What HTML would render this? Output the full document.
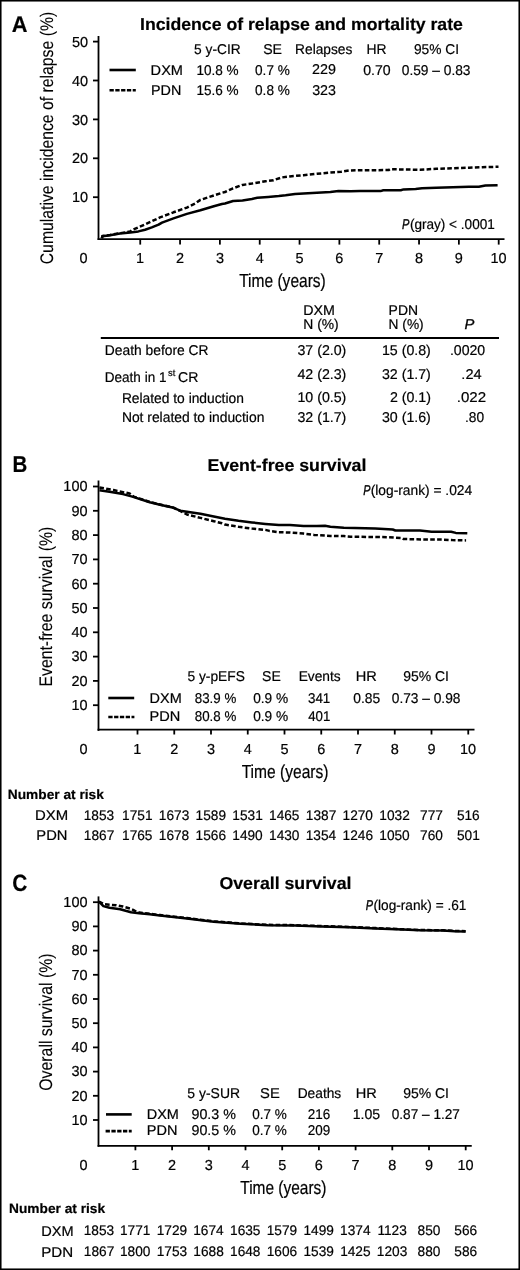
<!DOCTYPE html>
<html><head><meta charset="utf-8"><style>
html,body{margin:0;padding:0;background:#fff;}
body{width:520px;height:1270px;overflow:hidden;}
svg{display:block;will-change:transform;}
text{font-family:"Liberation Sans",sans-serif;fill:#000;stroke:#000;stroke-width:0.2px;text-rendering:geometricPrecision;}
</style></head><body>
<svg width="520" height="1270" viewBox="0 0 520 1270">
<rect x="0" y="0" width="520" height="1270" fill="#fff"/>
<rect x="0.75" y="0.75" width="518.5" height="1268.5" fill="none" stroke="#000" stroke-width="1.6"/>
<text x="11.76" y="31.60" font-size="22.6" font-weight="bold" font-style="normal" textLength="15.74" lengthAdjust="spacingAndGlyphs">A</text>
<text x="140.05" y="29.60" font-size="17.2" font-weight="bold" font-style="normal" textLength="322.85" lengthAdjust="spacingAndGlyphs">Incidence of relapse and mortality rate</text>
<text transform="translate(52.80,263.50) rotate(-90)" x="-0.79" y="0" font-size="18.2" textLength="252.48" lengthAdjust="spacingAndGlyphs" style="stroke-width:0.1px">Cumulative incidence of relapse (%)</text>
<line x1="98.50" y1="36.00" x2="98.50" y2="240.00" stroke="#000" stroke-width="1.8"/>
<line x1="97.60" y1="239.10" x2="504.50" y2="239.10" stroke="#000" stroke-width="1.8"/>
<line x1="93.00" y1="197.20" x2="98.50" y2="197.20" stroke="#000" stroke-width="1.8"/>
<text x="71.98" y="202.30" font-size="14.5" font-weight="normal" font-style="normal" textLength="16.13" lengthAdjust="spacingAndGlyphs">10</text>
<line x1="93.00" y1="158.30" x2="98.50" y2="158.30" stroke="#000" stroke-width="1.8"/>
<text x="71.98" y="163.40" font-size="14.5" font-weight="normal" font-style="normal" textLength="16.13" lengthAdjust="spacingAndGlyphs">20</text>
<line x1="93.00" y1="119.40" x2="98.50" y2="119.40" stroke="#000" stroke-width="1.8"/>
<text x="71.98" y="124.50" font-size="14.5" font-weight="normal" font-style="normal" textLength="16.13" lengthAdjust="spacingAndGlyphs">30</text>
<line x1="93.00" y1="80.50" x2="98.50" y2="80.50" stroke="#000" stroke-width="1.8"/>
<text x="71.98" y="85.60" font-size="14.5" font-weight="normal" font-style="normal" textLength="16.13" lengthAdjust="spacingAndGlyphs">40</text>
<line x1="93.00" y1="41.60" x2="98.50" y2="41.60" stroke="#000" stroke-width="1.8"/>
<text x="71.98" y="46.70" font-size="14.5" font-weight="normal" font-style="normal" textLength="16.13" lengthAdjust="spacingAndGlyphs">50</text>
<text x="79.53" y="262.80" font-size="14.5" font-weight="normal" font-style="normal" textLength="8.06" lengthAdjust="spacingAndGlyphs">0</text>
<line x1="140.23" y1="239.10" x2="140.23" y2="244.60" stroke="#000" stroke-width="1.8"/>
<text x="136.03" y="263.00" font-size="14.5" font-weight="normal" font-style="normal" textLength="8.06" lengthAdjust="spacingAndGlyphs">1</text>
<line x1="180.06" y1="239.10" x2="180.06" y2="244.60" stroke="#000" stroke-width="1.8"/>
<text x="176.04" y="263.00" font-size="14.5" font-weight="normal" font-style="normal" textLength="8.06" lengthAdjust="spacingAndGlyphs">2</text>
<line x1="219.89" y1="239.10" x2="219.89" y2="244.60" stroke="#000" stroke-width="1.8"/>
<text x="215.90" y="263.00" font-size="14.5" font-weight="normal" font-style="normal" textLength="8.06" lengthAdjust="spacingAndGlyphs">3</text>
<line x1="259.72" y1="239.10" x2="259.72" y2="244.60" stroke="#000" stroke-width="1.8"/>
<text x="255.73" y="263.00" font-size="14.5" font-weight="normal" font-style="normal" textLength="8.06" lengthAdjust="spacingAndGlyphs">4</text>
<line x1="299.55" y1="239.10" x2="299.55" y2="244.60" stroke="#000" stroke-width="1.8"/>
<text x="295.53" y="263.00" font-size="14.5" font-weight="normal" font-style="normal" textLength="8.06" lengthAdjust="spacingAndGlyphs">5</text>
<line x1="339.38" y1="239.10" x2="339.38" y2="244.60" stroke="#000" stroke-width="1.8"/>
<text x="335.32" y="263.00" font-size="14.5" font-weight="normal" font-style="normal" textLength="8.06" lengthAdjust="spacingAndGlyphs">6</text>
<line x1="379.21" y1="239.10" x2="379.21" y2="244.60" stroke="#000" stroke-width="1.8"/>
<text x="375.19" y="263.00" font-size="14.5" font-weight="normal" font-style="normal" textLength="8.06" lengthAdjust="spacingAndGlyphs">7</text>
<line x1="419.04" y1="239.10" x2="419.04" y2="244.60" stroke="#000" stroke-width="1.8"/>
<text x="414.98" y="263.00" font-size="14.5" font-weight="normal" font-style="normal" textLength="8.06" lengthAdjust="spacingAndGlyphs">8</text>
<line x1="458.87" y1="239.10" x2="458.87" y2="244.60" stroke="#000" stroke-width="1.8"/>
<text x="454.85" y="263.00" font-size="14.5" font-weight="normal" font-style="normal" textLength="8.06" lengthAdjust="spacingAndGlyphs">9</text>
<line x1="498.70" y1="239.10" x2="498.70" y2="244.60" stroke="#000" stroke-width="1.8"/>
<text x="490.40" y="263.00" font-size="14.5" font-weight="normal" font-style="normal" textLength="16.13" lengthAdjust="spacingAndGlyphs">10</text>
<text x="239.19" y="286.60" font-size="18.8" font-weight="normal" font-style="normal" textLength="86.61" lengthAdjust="spacingAndGlyphs">Time (years)</text>
<line x1="109.50" y1="70.00" x2="135.80" y2="70.00" stroke="#000" stroke-width="2.6"/>
<line x1="109.50" y1="90.20" x2="135.80" y2="90.20" stroke="#000" stroke-width="2.6" stroke-dasharray="4.3 1.5"/>
<text x="194.05" y="53.80" font-size="14.2" font-weight="normal" font-style="normal" textLength="46.63" lengthAdjust="spacingAndGlyphs">5 y-CIR</text>
<text x="263.16" y="53.80" font-size="14.2" font-weight="normal" font-style="normal" textLength="18.86" lengthAdjust="spacingAndGlyphs">SE</text>
<text x="295.10" y="53.80" font-size="14.2" font-weight="normal" font-style="normal" textLength="57.27" lengthAdjust="spacingAndGlyphs">Relapses</text>
<text x="366.59" y="53.80" font-size="14.2" font-weight="normal" font-style="normal" textLength="20.10" lengthAdjust="spacingAndGlyphs">HR</text>
<text x="413.88" y="53.80" font-size="14.2" font-weight="normal" font-style="normal" textLength="45.12" lengthAdjust="spacingAndGlyphs">95% CI</text>
<text x="150.63" y="74.80" font-size="14.2" font-weight="normal" font-style="normal" textLength="32.36" lengthAdjust="spacingAndGlyphs">DXM</text>
<text x="196.48" y="74.60" font-size="14.2" font-weight="normal" font-style="normal" textLength="42.17" lengthAdjust="spacingAndGlyphs">10.8 %</text>
<text x="255.06" y="74.60" font-size="14.2" font-weight="normal" font-style="normal" textLength="34.78" lengthAdjust="spacingAndGlyphs">0.7 %</text>
<text x="311.98" y="74.40" font-size="14.2" font-weight="normal" font-style="normal" textLength="23.91" lengthAdjust="spacingAndGlyphs">229</text>
<text x="363.24" y="74.60" font-size="14.2" font-weight="normal" font-style="normal" textLength="27.45" lengthAdjust="spacingAndGlyphs">0.70</text>
<text x="401.75" y="74.60" font-size="14.2" font-weight="normal" font-style="normal" textLength="68.76" lengthAdjust="spacingAndGlyphs">0.59 – 0.83</text>
<text x="151.05" y="95.00" font-size="14.2" font-weight="normal" font-style="normal" textLength="30.32" lengthAdjust="spacingAndGlyphs">PDN</text>
<text x="196.48" y="95.00" font-size="14.2" font-weight="normal" font-style="normal" textLength="42.17" lengthAdjust="spacingAndGlyphs">15.6 %</text>
<text x="255.06" y="95.00" font-size="14.2" font-weight="normal" font-style="normal" textLength="34.78" lengthAdjust="spacingAndGlyphs">0.8 %</text>
<text x="312.13" y="95.00" font-size="14.2" font-weight="normal" font-style="normal" textLength="23.76" lengthAdjust="spacingAndGlyphs">323</text>
<text x="409.89" y="228.70" font-size="14.2" font-weight="normal" font-style="normal" textLength="84.94" lengthAdjust="spacingAndGlyphs">(gray) &lt; .0001</text>
<text x="402.07" y="228.70" font-size="14.2" font-weight="normal" font-style="italic" textLength="7.41" lengthAdjust="spacingAndGlyphs" style="stroke-width:0.35px">P</text>
<polyline points="101.9,238.3 102.4,236.0 110.0,235.0 120.0,233.2 130.3,231.5 131.6,230.3 145.0,224.5 160.0,217.4 173.5,212.3 186.9,207.6 195.0,203.6 200.4,199.9 213.8,195.5 221.9,192.8 225.0,192.0 233.1,188.3 242.5,184.9 251.9,183.6 265.4,181.3 273.5,180.2 281.5,177.5 289.6,176.4 303.5,175.2 316.9,173.8 330.4,172.5 341.1,171.8 349.2,170.5 360.0,170.2 388.6,170.1 390.0,169.2 420.0,169.8 436.3,168.8 452.7,168.2 469.0,167.7 482.1,167.2 498.5,166.8" fill="none" stroke="#000" stroke-width="2.5" stroke-linejoin="round" stroke-dasharray="4.6 2.3"/>
<polyline points="101.9,238.3 102.4,236.2 110.0,235.2 120.0,233.6 130.3,232.4 138.4,231.4 145.1,229.7 151.8,227.4 158.6,224.6 162.0,222.6 173.5,218.4 186.9,213.9 200.4,210.3 213.8,206.2 221.9,204.0 225.0,203.5 233.1,201.0 242.5,200.4 251.9,199.0 257.3,197.7 268.1,197.0 278.8,196.1 285.6,195.3 295.0,193.9 303.5,193.4 316.9,192.7 330.4,192.0 338.5,191.1 350.6,191.3 360.0,190.9 380.6,191.1 383.3,190.3 400.8,190.2 403.5,189.4 415.6,188.9 422.0,188.3 436.3,187.8 452.7,187.3 469.0,186.8 478.8,186.8 485.4,185.6 497.6,185.3" fill="none" stroke="#000" stroke-width="2.5" stroke-linejoin="round"/>
<text x="303.26" y="315.00" font-size="14.2" font-weight="normal" font-style="normal" textLength="31.72" lengthAdjust="spacingAndGlyphs">DXM</text>
<text x="303.29" y="328.90" font-size="14.2" font-weight="normal" font-style="normal" textLength="35.41" lengthAdjust="spacingAndGlyphs">N (%)</text>
<text x="388.58" y="315.00" font-size="14.2" font-weight="normal" font-style="normal" textLength="29.45" lengthAdjust="spacingAndGlyphs">PDN</text>
<text x="388.60" y="328.90" font-size="14.2" font-weight="normal" font-style="normal" textLength="35.09" lengthAdjust="spacingAndGlyphs">N (%)</text>
<text x="464.46" y="328.70" font-size="14.2" font-weight="normal" font-style="italic" textLength="9.85" lengthAdjust="spacingAndGlyphs" style="stroke-width:0.3px">P</text>
<line x1="100.80" y1="338.00" x2="499.00" y2="338.00" stroke="#000" stroke-width="2.2"/>
<text x="104.79" y="355.20" font-size="14.2" font-weight="normal" font-style="normal" textLength="103.78" lengthAdjust="spacingAndGlyphs">Death before CR</text>
<text x="297.43" y="355.20" font-size="14.2" font-weight="normal" font-style="normal" textLength="48.94" lengthAdjust="spacingAndGlyphs">37 (2.0)</text>
<text x="381.93" y="355.20" font-size="14.2" font-weight="normal" font-style="normal" textLength="48.94" lengthAdjust="spacingAndGlyphs">15 (0.8)</text>
<text x="449.93" y="355.20" font-size="14.2" font-weight="normal" font-style="normal" textLength="35.27" lengthAdjust="spacingAndGlyphs">.0020</text>
<text x="297.43" y="378.60" font-size="14.2" font-weight="normal" font-style="normal" textLength="48.94" lengthAdjust="spacingAndGlyphs">42 (2.3)</text>
<text x="381.93" y="378.60" font-size="14.2" font-weight="normal" font-style="normal" textLength="48.94" lengthAdjust="spacingAndGlyphs">32 (1.7)</text>
<text x="461.39" y="378.60" font-size="14.2" font-weight="normal" font-style="normal" textLength="20.25" lengthAdjust="spacingAndGlyphs">.24</text>
<text x="121.90" y="402.80" font-size="14.2" font-weight="normal" font-style="normal" textLength="121.99" lengthAdjust="spacingAndGlyphs">Related to induction</text>
<text x="297.43" y="402.40" font-size="14.2" font-weight="normal" font-style="normal" textLength="48.94" lengthAdjust="spacingAndGlyphs">10 (0.5)</text>
<text x="389.89" y="402.40" font-size="14.2" font-weight="normal" font-style="normal" textLength="41.04" lengthAdjust="spacingAndGlyphs">2 (0.1)</text>
<text x="456.74" y="402.40" font-size="14.2" font-weight="normal" font-style="normal" textLength="29.33" lengthAdjust="spacingAndGlyphs">.022</text>
<text x="121.89" y="422.40" font-size="14.2" font-weight="normal" font-style="normal" textLength="142.50" lengthAdjust="spacingAndGlyphs">Not related to induction</text>
<text x="297.43" y="421.90" font-size="14.2" font-weight="normal" font-style="normal" textLength="48.94" lengthAdjust="spacingAndGlyphs">32 (1.7)</text>
<text x="381.93" y="421.90" font-size="14.2" font-weight="normal" font-style="normal" textLength="48.94" lengthAdjust="spacingAndGlyphs">30 (1.6)</text>
<text x="464.96" y="421.90" font-size="14.2" font-weight="normal" font-style="normal" textLength="19.09" lengthAdjust="spacingAndGlyphs">.80</text>
<text x="104.82" y="381.50" font-size="14.2" font-weight="normal" font-style="normal" textLength="61.64" lengthAdjust="spacingAndGlyphs">Death in 1</text>
<text x="168.12" y="375.60" font-size="9.5" font-weight="normal" font-style="normal" textLength="7.25" lengthAdjust="spacingAndGlyphs">st</text>
<text x="178.09" y="381.50" font-size="14.2" font-weight="normal" font-style="normal" textLength="20.40" lengthAdjust="spacingAndGlyphs">CR</text>
<text x="12.47" y="471.80" font-size="23" font-weight="bold" font-style="normal" textLength="14.80" lengthAdjust="spacingAndGlyphs">B</text>
<text x="207.55" y="471.20" font-size="17.2" font-weight="bold" font-style="normal" textLength="158.77" lengthAdjust="spacingAndGlyphs">Event-free survival</text>
<text transform="translate(52.40,685.30) rotate(-90)" x="-1.26" y="0" font-size="18.2" textLength="159.88" lengthAdjust="spacingAndGlyphs" style="stroke-width:0.1px">Event-free survival (%)</text>
<line x1="98.50" y1="480.50" x2="98.50" y2="730.90" stroke="#000" stroke-width="1.8"/>
<line x1="97.60" y1="729.70" x2="474.50" y2="729.70" stroke="#000" stroke-width="1.8"/>
<line x1="93.00" y1="705.20" x2="98.50" y2="705.20" stroke="#000" stroke-width="1.8"/>
<text x="71.39" y="710.00" font-size="14.5" font-weight="normal" font-style="normal" textLength="16.13" lengthAdjust="spacingAndGlyphs">10</text>
<line x1="93.00" y1="680.90" x2="98.50" y2="680.90" stroke="#000" stroke-width="1.8"/>
<text x="71.39" y="685.70" font-size="14.5" font-weight="normal" font-style="normal" textLength="16.13" lengthAdjust="spacingAndGlyphs">20</text>
<line x1="93.00" y1="656.60" x2="98.50" y2="656.60" stroke="#000" stroke-width="1.8"/>
<text x="71.39" y="661.40" font-size="14.5" font-weight="normal" font-style="normal" textLength="16.13" lengthAdjust="spacingAndGlyphs">30</text>
<line x1="93.00" y1="632.30" x2="98.50" y2="632.30" stroke="#000" stroke-width="1.8"/>
<text x="71.39" y="637.10" font-size="14.5" font-weight="normal" font-style="normal" textLength="16.13" lengthAdjust="spacingAndGlyphs">40</text>
<line x1="93.00" y1="608.00" x2="98.50" y2="608.00" stroke="#000" stroke-width="1.8"/>
<text x="71.39" y="612.80" font-size="14.5" font-weight="normal" font-style="normal" textLength="16.13" lengthAdjust="spacingAndGlyphs">50</text>
<line x1="93.00" y1="583.70" x2="98.50" y2="583.70" stroke="#000" stroke-width="1.8"/>
<text x="71.39" y="588.50" font-size="14.5" font-weight="normal" font-style="normal" textLength="16.13" lengthAdjust="spacingAndGlyphs">60</text>
<line x1="93.00" y1="559.40" x2="98.50" y2="559.40" stroke="#000" stroke-width="1.8"/>
<text x="71.39" y="564.20" font-size="14.5" font-weight="normal" font-style="normal" textLength="16.13" lengthAdjust="spacingAndGlyphs">70</text>
<line x1="93.00" y1="535.10" x2="98.50" y2="535.10" stroke="#000" stroke-width="1.8"/>
<text x="71.39" y="539.90" font-size="14.5" font-weight="normal" font-style="normal" textLength="16.13" lengthAdjust="spacingAndGlyphs">80</text>
<line x1="93.00" y1="510.80" x2="98.50" y2="510.80" stroke="#000" stroke-width="1.8"/>
<text x="71.39" y="515.60" font-size="14.5" font-weight="normal" font-style="normal" textLength="16.13" lengthAdjust="spacingAndGlyphs">90</text>
<line x1="93.00" y1="486.50" x2="98.50" y2="486.50" stroke="#000" stroke-width="1.8"/>
<text x="63.34" y="491.30" font-size="14.5" font-weight="normal" font-style="normal" textLength="24.19" lengthAdjust="spacingAndGlyphs">100</text>
<text x="79.53" y="753.80" font-size="14.5" font-weight="normal" font-style="normal" textLength="8.06" lengthAdjust="spacingAndGlyphs">0</text>
<line x1="137.50" y1="729.70" x2="137.50" y2="734.50" stroke="#000" stroke-width="1.8"/>
<text x="133.29" y="753.80" font-size="14.5" font-weight="normal" font-style="normal" textLength="8.06" lengthAdjust="spacingAndGlyphs">1</text>
<line x1="174.25" y1="729.70" x2="174.25" y2="734.50" stroke="#000" stroke-width="1.8"/>
<text x="170.23" y="753.80" font-size="14.5" font-weight="normal" font-style="normal" textLength="8.06" lengthAdjust="spacingAndGlyphs">2</text>
<line x1="211.00" y1="729.70" x2="211.00" y2="734.50" stroke="#000" stroke-width="1.8"/>
<text x="207.01" y="753.80" font-size="14.5" font-weight="normal" font-style="normal" textLength="8.06" lengthAdjust="spacingAndGlyphs">3</text>
<line x1="247.75" y1="729.70" x2="247.75" y2="734.50" stroke="#000" stroke-width="1.8"/>
<text x="243.76" y="753.80" font-size="14.5" font-weight="normal" font-style="normal" textLength="8.06" lengthAdjust="spacingAndGlyphs">4</text>
<line x1="284.50" y1="729.70" x2="284.50" y2="734.50" stroke="#000" stroke-width="1.8"/>
<text x="280.48" y="753.80" font-size="14.5" font-weight="normal" font-style="normal" textLength="8.06" lengthAdjust="spacingAndGlyphs">5</text>
<line x1="321.25" y1="729.70" x2="321.25" y2="734.50" stroke="#000" stroke-width="1.8"/>
<text x="317.19" y="753.80" font-size="14.5" font-weight="normal" font-style="normal" textLength="8.06" lengthAdjust="spacingAndGlyphs">6</text>
<line x1="358.00" y1="729.70" x2="358.00" y2="734.50" stroke="#000" stroke-width="1.8"/>
<text x="353.98" y="753.80" font-size="14.5" font-weight="normal" font-style="normal" textLength="8.06" lengthAdjust="spacingAndGlyphs">7</text>
<line x1="394.75" y1="729.70" x2="394.75" y2="734.50" stroke="#000" stroke-width="1.8"/>
<text x="390.69" y="753.80" font-size="14.5" font-weight="normal" font-style="normal" textLength="8.06" lengthAdjust="spacingAndGlyphs">8</text>
<line x1="431.50" y1="729.70" x2="431.50" y2="734.50" stroke="#000" stroke-width="1.8"/>
<text x="427.48" y="753.80" font-size="14.5" font-weight="normal" font-style="normal" textLength="8.06" lengthAdjust="spacingAndGlyphs">9</text>
<line x1="468.25" y1="729.70" x2="468.25" y2="734.50" stroke="#000" stroke-width="1.8"/>
<text x="459.95" y="753.80" font-size="14.5" font-weight="normal" font-style="normal" textLength="16.13" lengthAdjust="spacingAndGlyphs">10</text>
<text x="241.69" y="777.70" font-size="18.8" font-weight="normal" font-style="normal" textLength="86.82" lengthAdjust="spacingAndGlyphs">Time (years)</text>
<text x="370.67" y="495.00" font-size="14.2" font-weight="normal" font-style="normal" textLength="101.54" lengthAdjust="spacingAndGlyphs">(log-rank) = .024</text>
<text x="363.28" y="495.00" font-size="14.2" font-weight="normal" font-style="italic" textLength="7.20" lengthAdjust="spacingAndGlyphs" style="stroke-width:0.35px">P</text>
<line x1="108.30" y1="698.00" x2="134.20" y2="698.00" stroke="#000" stroke-width="2.6"/>
<line x1="108.30" y1="717.00" x2="134.40" y2="717.00" stroke="#000" stroke-width="2.6" stroke-dasharray="4.3 1.5"/>
<text x="187.45" y="681.40" font-size="14.2" font-weight="normal" font-style="normal" textLength="57.41" lengthAdjust="spacingAndGlyphs">5 y-pEFS</text>
<text x="262.07" y="681.40" font-size="14.2" font-weight="normal" font-style="normal" textLength="18.75" lengthAdjust="spacingAndGlyphs">SE</text>
<text x="298.70" y="681.40" font-size="14.2" font-weight="normal" font-style="normal" textLength="42.01" lengthAdjust="spacingAndGlyphs">Events</text>
<text x="355.83" y="681.40" font-size="14.2" font-weight="normal" font-style="normal" textLength="21.09" lengthAdjust="spacingAndGlyphs">HR</text>
<text x="403.17" y="681.40" font-size="14.2" font-weight="normal" font-style="normal" textLength="45.85" lengthAdjust="spacingAndGlyphs">95% CI</text>
<text x="149.64" y="702.50" font-size="14.2" font-weight="normal" font-style="normal" textLength="32.15" lengthAdjust="spacingAndGlyphs">DXM</text>
<text x="194.80" y="702.50" font-size="14.2" font-weight="normal" font-style="normal" textLength="41.44" lengthAdjust="spacingAndGlyphs">83.9 %</text>
<text x="253.15" y="702.50" font-size="14.2" font-weight="normal" font-style="normal" textLength="34.99" lengthAdjust="spacingAndGlyphs">0.9 %</text>
<text x="307.96" y="702.50" font-size="14.2" font-weight="normal" font-style="normal" textLength="22.35" lengthAdjust="spacingAndGlyphs">341</text>
<text x="353.25" y="702.50" font-size="14.2" font-weight="normal" font-style="normal" textLength="26.93" lengthAdjust="spacingAndGlyphs">0.85</text>
<text x="391.75" y="702.50" font-size="14.2" font-weight="normal" font-style="normal" textLength="68.69" lengthAdjust="spacingAndGlyphs">0.73 – 0.98</text>
<text x="149.63" y="721.00" font-size="14.2" font-weight="normal" font-style="normal" textLength="30.75" lengthAdjust="spacingAndGlyphs">PDN</text>
<text x="194.80" y="721.00" font-size="14.2" font-weight="normal" font-style="normal" textLength="41.44" lengthAdjust="spacingAndGlyphs">80.8 %</text>
<text x="253.15" y="721.00" font-size="14.2" font-weight="normal" font-style="normal" textLength="34.99" lengthAdjust="spacingAndGlyphs">0.9 %</text>
<text x="308.17" y="721.00" font-size="14.2" font-weight="normal" font-style="normal" textLength="22.14" lengthAdjust="spacingAndGlyphs">401</text>
<polyline points="99.4,487.4 113.5,490.1 129.6,493.5 133.7,496.6 149.8,502.0 160.0,504.5 173.5,507.6 180.2,510.9 186.9,514.5 200.4,517.9 213.8,521.2 221.9,523.3 225.0,524.6 238.5,526.8 251.9,528.6 265.4,529.9 269.4,530.9 278.8,532.2 290.0,532.5 303.5,533.6 314.2,534.9 330.4,535.9 343.8,536.1 350.6,536.8 360.0,536.8 388.6,537.2 402.1,538.1 403.5,539.0 425.0,539.5 443.1,539.6 452.3,540.1 466.1,540.4" fill="none" stroke="#000" stroke-width="2.5" stroke-linejoin="round" stroke-dasharray="4.6 2.3"/>
<polyline points="99.4,490.2 109.5,491.8 122.9,494.1 132.3,496.6 149.8,502.2 160.0,504.7 173.5,507.8 180.2,510.7 186.9,511.8 200.4,513.8 213.8,516.5 225.0,518.7 238.5,520.8 251.9,522.4 265.4,523.9 278.8,525.1 290.0,525.1 303.5,526.0 316.9,526.0 325.0,525.8 330.4,526.8 343.8,527.8 355.0,527.9 375.2,528.5 392.7,529.5 395.4,530.5 420.0,530.6 431.5,531.7 451.1,531.7 455.8,532.9 467.3,533.2" fill="none" stroke="#000" stroke-width="2.5" stroke-linejoin="round"/>
<text x="7.86" y="799.25" font-size="13.5" font-weight="bold" font-style="normal" textLength="95.92" lengthAdjust="spacingAndGlyphs">Number at risk</text>
<text x="35.06" y="820.20" font-size="14.2" font-weight="normal" font-style="normal" textLength="33.17" lengthAdjust="spacingAndGlyphs">DXM</text>
<text x="36.32" y="840.20" font-size="14.2" font-weight="normal" font-style="normal" textLength="31.13" lengthAdjust="spacingAndGlyphs">PDN</text>
<text x="83.76" y="820.20" font-size="13.9" font-weight="normal" font-style="normal" textLength="30.46" lengthAdjust="spacingAndGlyphs">1853</text>
<text x="83.80" y="840.20" font-size="13.9" font-weight="normal" font-style="normal" textLength="30.46" lengthAdjust="spacingAndGlyphs">1867</text>
<text x="122.10" y="820.20" font-size="13.9" font-weight="normal" font-style="normal" textLength="30.46" lengthAdjust="spacingAndGlyphs">1751</text>
<text x="122.03" y="840.20" font-size="13.9" font-weight="normal" font-style="normal" textLength="30.46" lengthAdjust="spacingAndGlyphs">1765</text>
<text x="158.81" y="820.20" font-size="13.9" font-weight="normal" font-style="normal" textLength="30.46" lengthAdjust="spacingAndGlyphs">1673</text>
<text x="158.78" y="840.20" font-size="13.9" font-weight="normal" font-style="normal" textLength="30.46" lengthAdjust="spacingAndGlyphs">1678</text>
<text x="195.56" y="820.20" font-size="13.9" font-weight="normal" font-style="normal" textLength="30.46" lengthAdjust="spacingAndGlyphs">1589</text>
<text x="195.56" y="840.20" font-size="13.9" font-weight="normal" font-style="normal" textLength="30.46" lengthAdjust="spacingAndGlyphs">1566</text>
<text x="232.35" y="820.20" font-size="13.9" font-weight="normal" font-style="normal" textLength="30.46" lengthAdjust="spacingAndGlyphs">1531</text>
<text x="232.28" y="840.20" font-size="13.9" font-weight="normal" font-style="normal" textLength="30.46" lengthAdjust="spacingAndGlyphs">1490</text>
<text x="269.03" y="820.20" font-size="13.9" font-weight="normal" font-style="normal" textLength="30.46" lengthAdjust="spacingAndGlyphs">1465</text>
<text x="269.03" y="840.20" font-size="13.9" font-weight="normal" font-style="normal" textLength="30.46" lengthAdjust="spacingAndGlyphs">1430</text>
<text x="305.85" y="820.20" font-size="13.9" font-weight="normal" font-style="normal" textLength="30.46" lengthAdjust="spacingAndGlyphs">1387</text>
<text x="305.71" y="840.20" font-size="13.9" font-weight="normal" font-style="normal" textLength="30.46" lengthAdjust="spacingAndGlyphs">1354</text>
<text x="342.53" y="820.20" font-size="13.9" font-weight="normal" font-style="normal" textLength="30.46" lengthAdjust="spacingAndGlyphs">1270</text>
<text x="342.56" y="840.20" font-size="13.9" font-weight="normal" font-style="normal" textLength="30.46" lengthAdjust="spacingAndGlyphs">1246</text>
<text x="379.35" y="820.20" font-size="13.9" font-weight="normal" font-style="normal" textLength="30.46" lengthAdjust="spacingAndGlyphs">1032</text>
<text x="379.28" y="840.20" font-size="13.9" font-weight="normal" font-style="normal" textLength="30.46" lengthAdjust="spacingAndGlyphs">1050</text>
<text x="420.10" y="820.20" font-size="13.9" font-weight="normal" font-style="normal" textLength="22.84" lengthAdjust="spacingAndGlyphs">777</text>
<text x="420.03" y="840.20" font-size="13.9" font-weight="normal" font-style="normal" textLength="22.84" lengthAdjust="spacingAndGlyphs">760</text>
<text x="456.89" y="820.20" font-size="13.9" font-weight="normal" font-style="normal" textLength="22.84" lengthAdjust="spacingAndGlyphs">516</text>
<text x="456.92" y="840.20" font-size="13.9" font-weight="normal" font-style="normal" textLength="22.84" lengthAdjust="spacingAndGlyphs">501</text>
<text x="12.37" y="890.50" font-size="23.5" font-weight="bold" font-style="normal" textLength="15.00" lengthAdjust="spacingAndGlyphs">C</text>
<text x="219.49" y="889.00" font-size="17.2" font-weight="bold" font-style="normal" textLength="132.02" lengthAdjust="spacingAndGlyphs">Overall survival</text>
<text transform="translate(52.20,1090.00) rotate(-90)" x="-0.71" y="0" font-size="18.2" textLength="137.21" lengthAdjust="spacingAndGlyphs" style="stroke-width:0.1px">Overall survival (%)</text>
<line x1="98.50" y1="896.40" x2="98.50" y2="1146.70" stroke="#000" stroke-width="1.8"/>
<line x1="97.60" y1="1145.80" x2="471.75" y2="1145.80" stroke="#000" stroke-width="1.8"/>
<line x1="93.00" y1="1120.00" x2="98.50" y2="1120.00" stroke="#000" stroke-width="1.8"/>
<text x="71.39" y="1124.80" font-size="14.5" font-weight="normal" font-style="normal" textLength="16.13" lengthAdjust="spacingAndGlyphs">10</text>
<line x1="93.00" y1="1095.80" x2="98.50" y2="1095.80" stroke="#000" stroke-width="1.8"/>
<text x="71.39" y="1100.60" font-size="14.5" font-weight="normal" font-style="normal" textLength="16.13" lengthAdjust="spacingAndGlyphs">20</text>
<line x1="93.00" y1="1071.60" x2="98.50" y2="1071.60" stroke="#000" stroke-width="1.8"/>
<text x="71.39" y="1076.40" font-size="14.5" font-weight="normal" font-style="normal" textLength="16.13" lengthAdjust="spacingAndGlyphs">30</text>
<line x1="93.00" y1="1047.40" x2="98.50" y2="1047.40" stroke="#000" stroke-width="1.8"/>
<text x="71.39" y="1052.20" font-size="14.5" font-weight="normal" font-style="normal" textLength="16.13" lengthAdjust="spacingAndGlyphs">40</text>
<line x1="93.00" y1="1023.20" x2="98.50" y2="1023.20" stroke="#000" stroke-width="1.8"/>
<text x="71.39" y="1028.00" font-size="14.5" font-weight="normal" font-style="normal" textLength="16.13" lengthAdjust="spacingAndGlyphs">50</text>
<line x1="93.00" y1="999.00" x2="98.50" y2="999.00" stroke="#000" stroke-width="1.8"/>
<text x="71.39" y="1003.80" font-size="14.5" font-weight="normal" font-style="normal" textLength="16.13" lengthAdjust="spacingAndGlyphs">60</text>
<line x1="93.00" y1="974.80" x2="98.50" y2="974.80" stroke="#000" stroke-width="1.8"/>
<text x="71.39" y="979.60" font-size="14.5" font-weight="normal" font-style="normal" textLength="16.13" lengthAdjust="spacingAndGlyphs">70</text>
<line x1="93.00" y1="950.60" x2="98.50" y2="950.60" stroke="#000" stroke-width="1.8"/>
<text x="71.39" y="955.40" font-size="14.5" font-weight="normal" font-style="normal" textLength="16.13" lengthAdjust="spacingAndGlyphs">80</text>
<line x1="93.00" y1="926.40" x2="98.50" y2="926.40" stroke="#000" stroke-width="1.8"/>
<text x="71.39" y="931.20" font-size="14.5" font-weight="normal" font-style="normal" textLength="16.13" lengthAdjust="spacingAndGlyphs">90</text>
<line x1="93.00" y1="902.20" x2="98.50" y2="902.20" stroke="#000" stroke-width="1.8"/>
<text x="63.34" y="907.00" font-size="14.5" font-weight="normal" font-style="normal" textLength="24.19" lengthAdjust="spacingAndGlyphs">100</text>
<text x="79.43" y="1169.70" font-size="14.5" font-weight="normal" font-style="normal" textLength="8.06" lengthAdjust="spacingAndGlyphs">0</text>
<line x1="135.40" y1="1145.80" x2="135.40" y2="1150.30" stroke="#000" stroke-width="1.8"/>
<text x="131.19" y="1169.80" font-size="14.5" font-weight="normal" font-style="normal" textLength="8.06" lengthAdjust="spacingAndGlyphs">1</text>
<line x1="172.10" y1="1145.80" x2="172.10" y2="1150.30" stroke="#000" stroke-width="1.8"/>
<text x="168.08" y="1169.80" font-size="14.5" font-weight="normal" font-style="normal" textLength="8.06" lengthAdjust="spacingAndGlyphs">2</text>
<line x1="208.80" y1="1145.80" x2="208.80" y2="1150.30" stroke="#000" stroke-width="1.8"/>
<text x="204.81" y="1169.80" font-size="14.5" font-weight="normal" font-style="normal" textLength="8.06" lengthAdjust="spacingAndGlyphs">3</text>
<line x1="245.50" y1="1145.80" x2="245.50" y2="1150.30" stroke="#000" stroke-width="1.8"/>
<text x="241.51" y="1169.80" font-size="14.5" font-weight="normal" font-style="normal" textLength="8.06" lengthAdjust="spacingAndGlyphs">4</text>
<line x1="282.20" y1="1145.80" x2="282.20" y2="1150.30" stroke="#000" stroke-width="1.8"/>
<text x="278.18" y="1169.80" font-size="14.5" font-weight="normal" font-style="normal" textLength="8.06" lengthAdjust="spacingAndGlyphs">5</text>
<line x1="318.90" y1="1145.80" x2="318.90" y2="1150.30" stroke="#000" stroke-width="1.8"/>
<text x="314.84" y="1169.80" font-size="14.5" font-weight="normal" font-style="normal" textLength="8.06" lengthAdjust="spacingAndGlyphs">6</text>
<line x1="355.60" y1="1145.80" x2="355.60" y2="1150.30" stroke="#000" stroke-width="1.8"/>
<text x="351.58" y="1169.80" font-size="14.5" font-weight="normal" font-style="normal" textLength="8.06" lengthAdjust="spacingAndGlyphs">7</text>
<line x1="392.30" y1="1145.80" x2="392.30" y2="1150.30" stroke="#000" stroke-width="1.8"/>
<text x="388.24" y="1169.80" font-size="14.5" font-weight="normal" font-style="normal" textLength="8.06" lengthAdjust="spacingAndGlyphs">8</text>
<line x1="429.00" y1="1145.80" x2="429.00" y2="1150.30" stroke="#000" stroke-width="1.8"/>
<text x="424.98" y="1169.80" font-size="14.5" font-weight="normal" font-style="normal" textLength="8.06" lengthAdjust="spacingAndGlyphs">9</text>
<line x1="465.70" y1="1145.80" x2="465.70" y2="1150.30" stroke="#000" stroke-width="1.8"/>
<text x="457.40" y="1169.80" font-size="14.5" font-weight="normal" font-style="normal" textLength="16.13" lengthAdjust="spacingAndGlyphs">10</text>
<text x="240.29" y="1194.40" font-size="18.8" font-weight="normal" font-style="normal" textLength="86.21" lengthAdjust="spacingAndGlyphs">Time (years)</text>
<text x="373.48" y="909.60" font-size="14.2" font-weight="normal" font-style="normal" textLength="92.99" lengthAdjust="spacingAndGlyphs">(log-rank) = .61</text>
<text x="365.67" y="909.60" font-size="14.2" font-weight="normal" font-style="italic" textLength="7.31" lengthAdjust="spacingAndGlyphs" style="stroke-width:0.35px">P</text>
<line x1="106.00" y1="1114.40" x2="131.70" y2="1114.40" stroke="#000" stroke-width="2.6"/>
<line x1="105.60" y1="1131.10" x2="131.70" y2="1131.10" stroke="#000" stroke-width="2.6" stroke-dasharray="4.3 1.5"/>
<text x="187.34" y="1097.50" font-size="14.2" font-weight="normal" font-style="normal" textLength="52.73" lengthAdjust="spacingAndGlyphs">5 y-SUR</text>
<text x="260.13" y="1097.50" font-size="14.2" font-weight="normal" font-style="normal" textLength="19.72" lengthAdjust="spacingAndGlyphs">SE</text>
<text x="297.70" y="1097.50" font-size="14.2" font-weight="normal" font-style="normal" textLength="43.56" lengthAdjust="spacingAndGlyphs">Deaths</text>
<text x="355.83" y="1097.50" font-size="14.2" font-weight="normal" font-style="normal" textLength="21.09" lengthAdjust="spacingAndGlyphs">HR</text>
<text x="403.17" y="1097.50" font-size="14.2" font-weight="normal" font-style="normal" textLength="45.85" lengthAdjust="spacingAndGlyphs">95% CI</text>
<text x="146.74" y="1118.50" font-size="14.2" font-weight="normal" font-style="normal" textLength="32.15" lengthAdjust="spacingAndGlyphs">DXM</text>
<text x="191.46" y="1118.50" font-size="14.2" font-weight="normal" font-style="normal" textLength="44.42" lengthAdjust="spacingAndGlyphs">90.3 %</text>
<text x="252.16" y="1118.50" font-size="14.2" font-weight="normal" font-style="normal" textLength="34.58" lengthAdjust="spacingAndGlyphs">0.7 %</text>
<text x="307.83" y="1118.50" font-size="14.2" font-weight="normal" font-style="normal" textLength="22.42" lengthAdjust="spacingAndGlyphs">216</text>
<text x="352.74" y="1118.50" font-size="14.2" font-weight="normal" font-style="normal" textLength="27.44" lengthAdjust="spacingAndGlyphs">1.05</text>
<text x="391.76" y="1118.50" font-size="14.2" font-weight="normal" font-style="normal" textLength="68.12" lengthAdjust="spacingAndGlyphs">0.87 – 1.27</text>
<text x="146.74" y="1135.00" font-size="14.2" font-weight="normal" font-style="normal" textLength="30.64" lengthAdjust="spacingAndGlyphs">PDN</text>
<text x="191.46" y="1135.00" font-size="14.2" font-weight="normal" font-style="normal" textLength="44.42" lengthAdjust="spacingAndGlyphs">90.5 %</text>
<text x="252.16" y="1135.00" font-size="14.2" font-weight="normal" font-style="normal" textLength="34.58" lengthAdjust="spacingAndGlyphs">0.7 %</text>
<text x="307.83" y="1135.00" font-size="14.2" font-weight="normal" font-style="normal" textLength="22.42" lengthAdjust="spacingAndGlyphs">209</text>
<polyline points="98.7,902.1 100.0,902.1 104.1,904.3 116.2,905.2 122.9,906.5 131.0,908.8 135.0,910.8 139.1,912.6 149.8,913.8 160.0,915.1 186.9,918.1 213.8,921.3 240.8,923.4 267.7,924.8 295.0,925.2 321.9,926.1 348.8,926.9 375.8,928.1 402.7,929.3 420.0,930.0 443.1,930.3 454.6,930.9 465.6,931.2" fill="none" stroke="#000" stroke-width="2.5" stroke-linejoin="round" stroke-dasharray="4.6 2.3"/>
<polyline points="98.7,902.3 100.0,902.6 103.4,906.1 109.5,907.8 120.2,909.2 125.6,910.8 131.0,912.2 139.1,913.2 149.8,914.2 160.0,915.6 186.9,918.5 213.8,921.7 240.8,923.8 267.7,925.2 295.0,925.6 321.9,926.5 348.8,927.3 375.8,928.5 402.7,929.6 420.0,930.3 443.1,930.6 454.6,931.2 465.6,931.5" fill="none" stroke="#000" stroke-width="2.5" stroke-linejoin="round"/>
<text x="9.11" y="1213.00" font-size="13.5" font-weight="bold" font-style="normal" textLength="95.92" lengthAdjust="spacingAndGlyphs">Number at risk</text>
<text x="41.33" y="1235.50" font-size="14.2" font-weight="normal" font-style="normal" textLength="32.36" lengthAdjust="spacingAndGlyphs">DXM</text>
<text x="41.29" y="1257.00" font-size="14.2" font-weight="normal" font-style="normal" textLength="31.94" lengthAdjust="spacingAndGlyphs">PDN</text>
<text x="83.76" y="1235.20" font-size="13.9" font-weight="normal" font-style="normal" textLength="30.46" lengthAdjust="spacingAndGlyphs">1853</text>
<text x="83.80" y="1256.30" font-size="13.9" font-weight="normal" font-style="normal" textLength="30.46" lengthAdjust="spacingAndGlyphs">1867</text>
<text x="120.00" y="1235.20" font-size="13.9" font-weight="normal" font-style="normal" textLength="30.46" lengthAdjust="spacingAndGlyphs">1771</text>
<text x="119.93" y="1256.30" font-size="13.9" font-weight="normal" font-style="normal" textLength="30.46" lengthAdjust="spacingAndGlyphs">1800</text>
<text x="156.66" y="1235.20" font-size="13.9" font-weight="normal" font-style="normal" textLength="30.46" lengthAdjust="spacingAndGlyphs">1729</text>
<text x="156.66" y="1256.30" font-size="13.9" font-weight="normal" font-style="normal" textLength="30.46" lengthAdjust="spacingAndGlyphs">1753</text>
<text x="193.26" y="1235.20" font-size="13.9" font-weight="normal" font-style="normal" textLength="30.46" lengthAdjust="spacingAndGlyphs">1674</text>
<text x="193.33" y="1256.30" font-size="13.9" font-weight="normal" font-style="normal" textLength="30.46" lengthAdjust="spacingAndGlyphs">1688</text>
<text x="230.03" y="1235.20" font-size="13.9" font-weight="normal" font-style="normal" textLength="30.46" lengthAdjust="spacingAndGlyphs">1635</text>
<text x="230.03" y="1256.30" font-size="13.9" font-weight="normal" font-style="normal" textLength="30.46" lengthAdjust="spacingAndGlyphs">1648</text>
<text x="266.76" y="1235.20" font-size="13.9" font-weight="normal" font-style="normal" textLength="30.46" lengthAdjust="spacingAndGlyphs">1579</text>
<text x="266.76" y="1256.30" font-size="13.9" font-weight="normal" font-style="normal" textLength="30.46" lengthAdjust="spacingAndGlyphs">1606</text>
<text x="303.46" y="1235.20" font-size="13.9" font-weight="normal" font-style="normal" textLength="30.46" lengthAdjust="spacingAndGlyphs">1499</text>
<text x="303.46" y="1256.30" font-size="13.9" font-weight="normal" font-style="normal" textLength="30.46" lengthAdjust="spacingAndGlyphs">1539</text>
<text x="340.06" y="1235.20" font-size="13.9" font-weight="normal" font-style="normal" textLength="30.46" lengthAdjust="spacingAndGlyphs">1374</text>
<text x="340.13" y="1256.30" font-size="13.9" font-weight="normal" font-style="normal" textLength="30.46" lengthAdjust="spacingAndGlyphs">1425</text>
<text x="377.38" y="1235.20" font-size="13.9" font-weight="normal" font-style="normal" textLength="29.44" lengthAdjust="spacingAndGlyphs">1123</text>
<text x="376.86" y="1256.30" font-size="13.9" font-weight="normal" font-style="normal" textLength="30.46" lengthAdjust="spacingAndGlyphs">1203</text>
<text x="417.57" y="1235.20" font-size="13.9" font-weight="normal" font-style="normal" textLength="22.84" lengthAdjust="spacingAndGlyphs">850</text>
<text x="417.57" y="1256.30" font-size="13.9" font-weight="normal" font-style="normal" textLength="22.84" lengthAdjust="spacingAndGlyphs">880</text>
<text x="454.34" y="1235.20" font-size="13.9" font-weight="normal" font-style="normal" textLength="22.84" lengthAdjust="spacingAndGlyphs">566</text>
<text x="454.34" y="1256.30" font-size="13.9" font-weight="normal" font-style="normal" textLength="22.84" lengthAdjust="spacingAndGlyphs">586</text>
</svg>
</body></html>
